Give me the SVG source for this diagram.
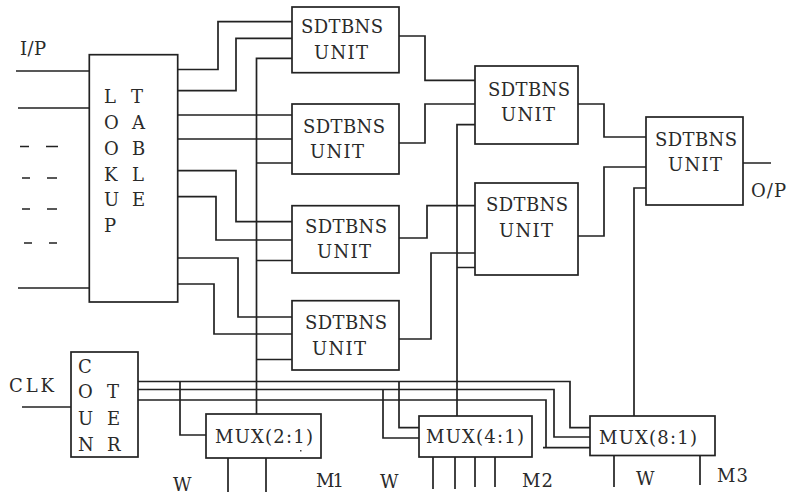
<svg xmlns="http://www.w3.org/2000/svg" width="788" height="497" viewBox="0 0 788 497">
<style>
.b{fill:#fff;stroke:#222;stroke-width:1.7}
.w{fill:none;stroke:#222;stroke-width:1.7}
text{font-family:"DejaVu Serif","Liberation Serif",serif;font-size:18px;fill:#2a2a2a}
</style>
<rect width="788" height="497" fill="#fff"/>
<g id="connectors" class="w">
<path d="M16 71H89M18 108H89M18 288H89"/>
<path d="M20 146.500H29M46 146.500H58M22 178H30M47 178H57M22 209H30M47 209H57M24 243H32M49 243H57"/>
<path d="M178 69.500H218V21.700H292M178 90.700H236V38.300H292M175 115H292M178 139H292M178 170.700H236V221.700H292M178 196.700H216V240H292M178 258H238V317H292M178 284H214V334H292"/>
<path d="M292 58.300H256.500V414M256.500 163H292M256.500 260.500H292M256.500 359.500H292"/>
<path d="M399 36H425V80.300H475M399 143H425V104H475M399 238H427V205.700H475M399 339H431V253H475"/>
<path d="M475 124.700H457V416M457 267.500H475"/>
<path d="M578 104H604V137H646M578 236H604V167H646M646 188H634V416M743 163H771"/>
<path d="M22 407H73"/>
<path d="M138 381.500H570V427.700H590M138 389.500H554V437H590M135 400H546V447.700M543 447.700H590"/>
<path d="M180 381.500V435H206M399 381.500V427.700H419M383 389.500V438H419"/>
<path d="M228 458V492M266 458V492M433 457V489M455 457V489M475 457V487M495 457V487M614 455.500V487M700 455.500V485"/>
</g>
<g id="lookup"><rect class="b" x="89.300" y="54.700" width="88.400" height="247.300"/>
<text x="104" y="103">L</text><text x="104" y="129">O</text><text x="104" y="155">O</text><text x="104" y="181">K</text><text x="104" y="206">U</text><text x="104" y="232">P</text>
<text x="131" y="103">T</text><text x="132" y="129">A</text><text x="132" y="155">B</text><text x="132" y="181">L</text><text x="132" y="206">E</text></g>
<g id="u1"><rect class="b" x="292" y="7" width="107" height="65.700"/><text x="301" y="33" textLength="82">SDTBNS</text><text x="314" y="59" textLength="54">UNIT</text></g>
<g id="u2"><rect class="b" x="292" y="104" width="107" height="70"/><text x="303" y="133" textLength="82">SDTBNS</text><text x="310" y="158" textLength="54">UNIT</text></g>
<g id="u3"><rect class="b" x="292" y="205.700" width="107" height="67.300"/><text x="305" y="233" textLength="82">SDTBNS</text><text x="317" y="258" textLength="54">UNIT</text></g>
<g id="u4"><rect class="b" x="292" y="300.700" width="107" height="69.300"/><text x="305" y="329" textLength="82">SDTBNS</text><text x="312" y="355" textLength="54">UNIT</text></g>
<g id="u5"><rect class="b" x="475" y="66" width="103" height="78"/><text x="488" y="96" textLength="82">SDTBNS</text><text x="501" y="121" textLength="54">UNIT</text></g>
<g id="u6"><rect class="b" x="475" y="183" width="103" height="92"/><text x="486" y="211" textLength="82">SDTBNS</text><text x="499" y="237" textLength="54">UNIT</text></g>
<g id="u7"><rect class="b" x="646" y="117" width="97" height="88"/><text x="655" y="146" textLength="82">SDTBNS</text><text x="668" y="171" textLength="54">UNIT</text></g>
<g id="counter"><rect class="b" x="71" y="352" width="67" height="105"/>
<text x="78" y="373">C</text><text x="78" y="398">O</text><text x="78" y="425">U</text><text x="78" y="451">N</text>
<text x="107" y="398">T</text><text x="107" y="425">E</text><text x="107" y="451">R</text></g>
<g id="mux2"><rect class="b" x="206" y="414" width="115" height="44"/><text x="215" y="443" textLength="98">MUX(2:1)</text><rect x="300" y="450" width="1.500" height="1.500" fill="#444"/></g>
<g id="mux4"><rect class="b" x="419" y="416" width="113" height="41"/><text x="426" y="443" textLength="98">MUX(4:1)</text></g>
<g id="mux8"><rect class="b" x="590" y="416" width="125" height="39.500"/><text x="599" y="444" textLength="98">MUX(8:1)</text></g>
<g id="labels">
<text x="20" y="55" textLength="26">I/P</text>
<text x="9" y="392" textLength="45">CLK</text>
<text x="751" y="197" textLength="35">O/P</text>
<text x="173" y="491" textLength="22">W</text>
<text x="316" y="487" textLength="28">M1</text>
<text x="380" y="488" textLength="22">W</text>
<text x="522" y="487" textLength="31">M2</text>
<text x="636" y="485" textLength="21">W</text>
<text x="717" y="482" textLength="31">M3</text>
</g>
</svg>
